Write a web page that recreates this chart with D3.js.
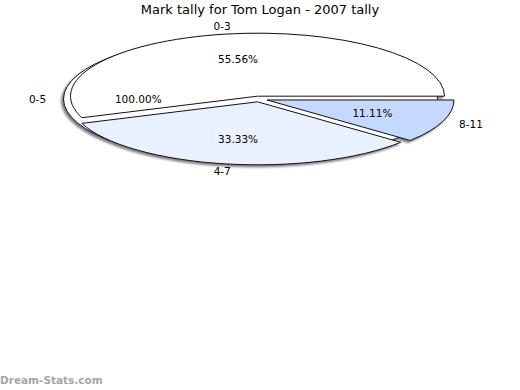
<!DOCTYPE html>
<html>
<head>
<meta charset="utf-8">
<style>
  body { margin: 0; background: #fff; }
  text { font-family: "DejaVu Sans", sans-serif; fill: #000; }
</style>
</head>
<body>
<script src="https://d3js.org/d3.v7.min.js"></script>
<script>

// chart data
var title = "Mark tally for Tom Logan - 2007 tally";
var categories = ["0-3", "4-7", "8-11"];
var shares = [55.56, 33.33, 11.11];
var colors = ["#ffffff", "#eaf1fe", "#c5d8fe"];
// the extra "total" slice the chart draws behind the others
var totalName = "0-5";
var totalShare = 100.00;
var totalColor = "#ffffff";

var width = 520, height = 390;
var cx = 259, cy = 99, rx = 187, ry = 63, explode = 8.5;
var k = ry / rx;

// percent -> angle (radians, counter-clockwise from 3 o'clock)
var angle = d3.scaleLinear().domain([0, 100]).range([0, 2 * Math.PI]);

var slices = [{ name: totalName, value: totalShare, start: 0, end: angle(totalShare), fill: totalColor }];
var acc = 0;
categories.forEach((c, i) => {
	slices.push({ name: c, value: shares[i], start: angle(acc), end: angle(acc + shares[i]), fill: colors[i] });
	acc += shares[i];
});
slices.forEach(d => {
	d.mid = (d.start + d.end) / 2;
	d.ox = cx + explode * Math.cos(d.mid);
	d.oy = cy - explode * k * Math.sin(d.mid);
});

var svg = d3.select("body").append("svg")
	.attr("width", width)
	.attr("height", height);

var defs = svg.append("defs");
defs.append("filter")
	.attr("id", "shadow")
	.attr("x", "-10%").attr("y", "-10%")
	.attr("width", "120%").attr("height", "130%")
  .append("feDropShadow")
	.attr("dx", -2).attr("dy", 2)
	.attr("stdDeviation", 1)
	.attr("flood-color", "#444")
	.attr("flood-opacity", 0.7);

svg.append("text")
	.attr("x", width / 2)
	.attr("y", 14)
	.attr("text-anchor", "middle")
	.attr("font-size", 13)
	.text(title);

var arc = d3.arc()
	.innerRadius(0)
	.outerRadius(rx)
	.startAngle(d => Math.PI / 2 - d.end)
	.endAngle(d => Math.PI / 2 - d.start);

var pie = svg.append("g").attr("filter", "url(#shadow)");

pie.selectAll("path")
	.data(slices)
  .enter().append("path")
	.attr("transform", d => "translate(" + d.ox + "," + d.oy + ") scale(1," + k + ")")
	.attr("d", arc)
	.attr("fill", d => d.fill)
	.attr("stroke", "#111")
	.attr("stroke-width", 1)
	.attr("vector-effect", "non-scaling-stroke");

// percentages inside the slices
svg.append("g").selectAll("text")
	.data(slices)
  .enter().append("text")
	.attr("x", d => d.ox + 0.6 * rx * Math.cos(d.mid))
	.attr("y", d => d.oy - 0.6 * ry * Math.sin(d.mid))
	.attr("dy", "0.35em")
	.attr("text-anchor", "middle")
	.attr("font-size", 10.5)
	.text(d => d3.format(".2f")(d.value) + "%");

// category names outside
svg.append("g").selectAll("text")
	.data(slices)
  .enter().append("text")
	.attr("x", d => d.ox + 2 + (rx + 28) * Math.cos(d.mid))
	.attr("y", d => d.oy - (ry + 8) * Math.sin(d.mid))
	.attr("dy", "0.35em")
	.attr("text-anchor", "middle")
	.attr("font-size", 10.5)
	.text(d => d.name);

svg.append("text")
	.attr("x", 0)
	.attr("y", 384)
	.attr("font-size", 10.5)
	.attr("font-weight", "bold")
	.style("fill", "#a6a6a6")
	.text("Dream-Stats.com");

</script>
</body>
</html>
